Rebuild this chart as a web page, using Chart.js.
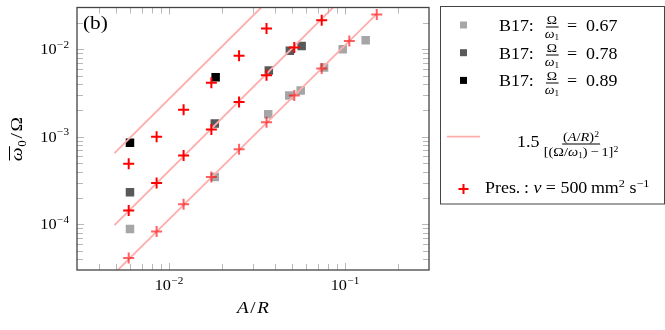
<!DOCTYPE html>
<html>
<head>
<meta charset="utf-8">
<script src="https://cdn.jsdelivr.net/npm/chart.js@4.4.1/dist/chart.umd.min.js"></script>
<style>
  html, body { margin: 0; padding: 0; background: #fff; }
  #wrap { position: relative; width: 665px; height: 330px; }
  #chart { position: absolute; left: 0; top: 0; }
  .t {
    position: absolute; height: 20px; display: flex; align-items: center;
    font-family: 'Liberation Serif', serif; font-size: 16px; line-height: 15px;
    color: #000; white-space: nowrap;
    transform-origin: left center; transform: scaleX(1.12);
  }
  .fr {
    position: absolute; display: flex; flex-direction: column; align-items: center;
    font-family: 'Liberation Serif', serif; font-size: 12px; line-height: 11px;
    color: #000; white-space: nowrap;
    transform: translate(-50%, -50%) scaleX(1.15);
  }
  .fr .num { padding: 0 1px 1px; border-bottom: 0.9px solid #000; }
  .fr .den { padding-top: 1px; }
  .fr.big { font-size: 12.5px; line-height: 12px; }
  .t sup { font-size: 11px; line-height: 0; vertical-align: 6px; }
  .fr sup { font-size: 8.5px; line-height: 0; vertical-align: 4px; }
  .fr sub { font-size: 8px; line-height: 0; vertical-align: -2px; }
</style>
</head>
<body>
<div id="wrap">
  <canvas id="chart" width="665" height="330"></canvas>

  <span class="t" style="left:499px;top:15.3px">B17:</span>
  <span class="fr" style="left:552px;top:27.2px"><span class="num">Ω</span><span class="den"><i>ω</i><sub>1</sub></span></span>
  <span class="t" style="left:567px;top:15.3px">=&ensp;0.67</span>

  <span class="t" style="left:499px;top:43px">B17:</span>
  <span class="fr" style="left:552px;top:54.9px"><span class="num">Ω</span><span class="den"><i>ω</i><sub>1</sub></span></span>
  <span class="t" style="left:567px;top:43px">=&ensp;0.78</span>

  <span class="t" style="left:499px;top:70.7px">B17:</span>
  <span class="fr" style="left:552px;top:82.6px"><span class="num">Ω</span><span class="den"><i>ω</i><sub>1</sub></span></span>
  <span class="t" style="left:567px;top:70.7px">=&ensp;0.89</span>

  <span class="t" style="left:517px;top:131.9px">1.5</span>
  <span class="fr big" style="left:581px;top:144.3px"><span class="num">(<i>A</i>/<i>R</i>)<sup>2</sup></span><span class="den">[(Ω/<i>ω</i><sub>1</sub>)&thinsp;−&thinsp;1]<sup>2</sup></span></span>

  <span class="t" style="left:485px;top:177.9px"><span>Pres.&thinsp;:&nbsp;<i>ν</i>&nbsp;=&nbsp;500&thinsp;mm<sup>2</sup>&nbsp;s<sup>−1</sup></span></span>
</div>

<script>
/* ── data ───────────────────────────────────────── */

// present simulations (red crosses), one run per forcing ratio
const presX_089 = [0.0059, 0.0085, 0.0121, 0.0174, 0.025, 0.0358];
const presY_089 = [4.9e-4, 1.0e-3, 2.04e-3, 4.13e-3, 8.4e-3, 0.0173];
const presX_078 = [0.0059, 0.0085, 0.0121, 0.0174, 0.025, 0.0358, 0.0515, 0.0737];
const presY_078 = [1.44e-4, 2.96e-4, 6.1e-4, 1.21e-3, 2.49e-3, 5.03e-3, 0.01045, 0.0214];
const presX_067 = [0.0059, 0.0085, 0.0121, 0.0174, 0.025, 0.0358, 0.0515, 0.0737, 0.1058, 0.1515];
const presY_067 = [4.12e-5, 8.26e-5, 1.69e-4, 3.47e-4, 7.19e-4, 1.46e-3, 2.96e-3, 6.04e-3, 0.01245, 0.0249];

// B17 squares
const b17X_067 = [0.006, 0.0182, 0.0366, 0.0482, 0.056, 0.076, 0.097, 0.131];
const b17Y_067 = [8.8e-5, 3.47e-4, 1.81e-3, 2.96e-3, 3.38e-3, 6.2e-3, 0.0100, 0.0127];
const b17X_078 = [0.006, 0.0182, 0.0369, 0.0486, 0.0567];
const b17Y_078 = [2.32e-4, 1.42e-3, 5.7e-3, 9.6e-3, 0.0109];
const b17X_089 = [0.006, 0.0184];
const b17Y_089 = [8.55e-4, 4.78e-3];

// 1.5 (A/R)^2 / [(Ω/ω1)-1]^2 lines, end points
const fitX_067 = [0.0049, 0.1515];
const fitY_067 = [2.75e-5, 0.0253];
const fitX_078 = [0.0049, 0.0855];
const fitY_078 = [9.8e-5, 0.0300];
const fitX_089 = [0.0049, 0.0334];
const fitY_089 = [6.5e-4, 0.0300];

// axes
const xRange = [0.003, 0.3];
const yRange = [3e-5, 3e-2];
const xMajor = [1e-2, 1e-1];
const yMajor = [1e-4, 1e-3, 1e-2];

/* ── styles ─────────────────────────────────────── */
const SERIF = "'Liberation Serif', 'Times New Roman', serif";
const GREY_L = '#a6a6a6';
const GREY_D = '#595959';
const FIT_C  = '#ffacac';
const RED    = '#ff0000';
const STRETCH = 1.12;   // glyphs in the figure are a bit wider than Liberation Serif

const pts = (xs, ys) => xs.map((x, i) => ({ x, y: ys[i] }));

function squares(label, xs, ys, color) {
  return {
    label, data: pts(xs, ys), order: 3,
    pointStyle: 'rect', pointRadius: 6, pointHoverRadius: 6,
    backgroundColor: color, borderColor: color, borderWidth: 0,
  };
}
function fit(xs, ys) {
  return {
    label: 'fit', data: pts(xs, ys), order: 2, showLine: true,
    borderColor: FIT_C, borderWidth: 1.8, pointRadius: 0, clip: 0,
  };
}
function crosses(xs, ys, color) {
  return {
    label: 'Pres.', data: pts(xs, ys), order: 1,
    pointStyle: 'cross', pointRadius: 5.5, pointHoverRadius: 5.5,
    borderColor: color, pointBorderWidth: 2, backgroundColor: color,
  };
}

const datasets = [
  squares('B17 0.67', b17X_067, b17Y_067, GREY_L),
  squares('B17 0.78', b17X_078, b17Y_078, GREY_D),
  squares('B17 0.89', b17X_089, b17Y_089, '#000'),
  fit(fitX_067, fitY_067),
  fit(fitX_078, fitY_078),
  fit(fitX_089, fitY_089),
  crosses(presX_067, presY_067, 'rgba(255,0,0,0.62)'),
  crosses(presX_078, presY_078, RED),
  crosses(presX_089, presY_089, RED),
];

/* ── minor/major tick values inside a range ──── */
function logTicks(lo, hi) {
  const out = [];
  for (let e = Math.floor(Math.log10(lo)); e <= Math.ceil(Math.log10(hi)); e++) {
    for (let m = 1; m <= 9; m++) {
      const v = m * Math.pow(10, e);
      if (v > lo * 1.0001 && v < hi * 0.9999) out.push({ v, major: m === 1 });
    }
  }
  return out;
}

// "10" with a superscript exponent, horizontally stretched like the figure
function powLabel(ctx, exp, x, y, align) {
  const base = '10', sup = '−' + Math.abs(exp);
  ctx.font = '14.5px ' + SERIF;
  const wb = ctx.measureText(base).width;
  ctx.font = '10px ' + SERIF;
  const ws = ctx.measureText(sup).width;
  const w = (wb + ws + 0.5) * STRETCH;
  const x0 = align === 'right' ? x - w : x - w / 2;
  ctx.save();
  ctx.translate(x0, y);
  ctx.scale(STRETCH, 1);
  ctx.textAlign = 'left';
  ctx.textBaseline = 'alphabetic';
  ctx.font = '14.5px ' + SERIF;
  ctx.fillText(base, 0, 0);
  ctx.font = '10px ' + SERIF;
  ctx.fillText(sup, wb + 0.5, -6.5);
  ctx.restore();
}

/* ── frame, inward ticks, labels, legend box ─── */
const pgfAxes = {
  id: 'pgfAxes',
  afterDatasetsDraw(chart) {
    const ctx = chart.ctx;
    const { left, right, top, bottom } = chart.chartArea;
    const xs = chart.scales.x, ys = chart.scales.y;
    ctx.save();

    // tick marks
    ctx.strokeStyle = '#b8b8b8';
    ctx.lineWidth = 1;
    ctx.beginPath();
    logTicks(xRange[0], xRange[1]).forEach(t => {
      const px = Math.round(xs.getPixelForValue(t.v)) + 0.5;
      const len = t.major ? 7 : 6;
      ctx.moveTo(px, bottom); ctx.lineTo(px, bottom - len);
      ctx.moveTo(px, top);    ctx.lineTo(px, top + len);
    });
    logTicks(yRange[0], yRange[1]).forEach(t => {
      const py = Math.round(ys.getPixelForValue(t.v)) + 0.5;
      const len = t.major ? 7 : 6;
      ctx.moveTo(left, py);  ctx.lineTo(left + len, py);
      ctx.moveTo(right, py); ctx.lineTo(right - len, py);
    });
    ctx.stroke();

    // frame
    ctx.strokeStyle = '#444';
    ctx.lineWidth = 1.3;
    ctx.strokeRect(left, top, right - left, bottom - top);

    // tick labels
    ctx.fillStyle = '#000';
    xMajor.forEach(v => powLabel(ctx, Math.round(Math.log10(v)), xs.getPixelForValue(v), bottom + 20, 'center'));
    yMajor.forEach(v => powLabel(ctx, Math.round(Math.log10(v)), left - 8, ys.getPixelForValue(v) + 5, 'right'));

    // x title  A/R
    ctx.save();
    ctx.font = 'italic 17px ' + SERIF;
    const wA = ctx.measureText('A').width, wS = ctx.measureText('/').width, wR = ctx.measureText('R').width;
    const gap = 1.5;
    const totX = (wA + wS + wR + 2 * gap) * STRETCH;
    ctx.translate((left + right) / 2 - totX / 2, bottom + 43);
    ctx.scale(STRETCH, 1);
    ctx.textAlign = 'left';
    ctx.fillText('A', 0, 0);
    ctx.font = '17px ' + SERIF;
    ctx.fillText('/', wA + gap, 0);
    ctx.font = 'italic 17px ' + SERIF;
    ctx.fillText('R', wA + wS + 2 * gap, 0);
    ctx.restore();

    // y title, rotated:  ω̄0 / Ω
    ctx.save();
    ctx.translate(22, (top + bottom) / 2);
    ctx.rotate(-Math.PI / 2);
    ctx.scale(STRETCH, 1);
    ctx.font = 'italic 17.5px ' + SERIF;
    const wOm = ctx.measureText('ω').width;
    ctx.font = '11.5px ' + SERIF;
    const wSub = ctx.measureText('0').width;
    ctx.font = '17.5px ' + SERIF;
    const wSl = ctx.measureText('/').width;
    const wBig = ctx.measureText('Ω').width;
    let cx = -(wOm + wSub + wSl + wBig + 4) / 2;
    ctx.textAlign = 'left';
    ctx.font = 'italic 17.5px ' + SERIF;
    ctx.fillText('ω', cx, 0);
    ctx.lineWidth = 1;
    ctx.strokeStyle = '#000';
    ctx.beginPath(); ctx.moveTo(cx + 0.5, -12.5); ctx.lineTo(cx + wOm + 1, -12.5); ctx.stroke();
    cx += wOm + 0.5;
    ctx.font = '11.5px ' + SERIF;
    ctx.fillText('0', cx, 3.5);
    cx += wSub + 1.5;
    ctx.font = '17.5px ' + SERIF;
    ctx.fillText('/', cx, 0);
    cx += wSl + 1.5;
    ctx.fillText('Ω', cx, 0);
    ctx.restore();

    // panel tag
    ctx.save();
    ctx.translate(left + 6, top + 21.5);
    ctx.scale(STRETCH, 1);
    ctx.font = '19px ' + SERIF;
    ctx.textAlign = 'left';
    ctx.fillText('(b)', 0, 0);
    ctx.restore();

    // legend box + markers
    ctx.strokeStyle = '#444';
    ctx.lineWidth = 1;
    ctx.strokeRect(440.5, 6.5, 224, 197.5);
    const mx = 463.5;
    [0, 1, 2].forEach(i => {
      ctx.fillStyle = chart.data.datasets[i].backgroundColor;
      ctx.fillRect(mx - 3.5, 21.5 + i * 27.7, 7, 7);
    });
    ctx.strokeStyle = FIT_C;
    ctx.lineWidth = 1.8;
    ctx.beginPath(); ctx.moveTo(447, 136.7); ctx.lineTo(480, 136.7); ctx.stroke();
    ctx.strokeStyle = RED;
    ctx.lineWidth = 2;
    ctx.beginPath();
    ctx.moveTo(mx - 5, 189); ctx.lineTo(mx + 5, 189);
    ctx.moveTo(mx, 184); ctx.lineTo(mx, 194);
    ctx.stroke();

    ctx.restore();
  }
};

new Chart(document.getElementById('chart'), {
  type: 'scatter',
  data: { datasets },
  options: {
    responsive: false,
    animation: false,
    devicePixelRatio: 1,
    layout: { padding: { left: 77, right: 236, top: 6, bottom: 60 } },
    scales: {
      x: { type: 'logarithmic', min: xRange[0], max: xRange[1], bounds: 'data', display: false },
      y: { type: 'logarithmic', min: yRange[0], max: yRange[1], bounds: 'data', display: false },
    },
    plugins: {
      legend: { display: false },
      tooltip: { enabled: false },
    },
  },
  plugins: [pgfAxes],
});
</script>
</body>
</html>
